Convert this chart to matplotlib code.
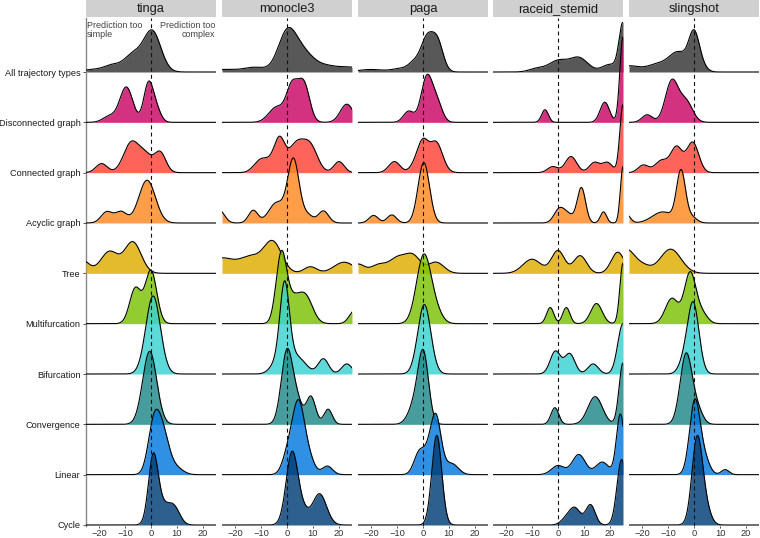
import numpy as np
import matplotlib
matplotlib.use("Agg")
import matplotlib.pyplot as plt

plt.rcParams['font.family'] = ['Liberation Sans', 'DejaVu Sans']

methods = ["tinga", "monocle3", "paga", "raceid_stemid", "slingshot"]
traj_types = ["All trajectory types", "Disconnected graph", "Connected graph",
              "Acyclic graph", "Tree", "Multifurcation", "Bifurcation",
              "Convergence", "Linear", "Cycle"]
type_colors = ["#333333", "#ca0565", "#ff4237", "#ff8821", "#e0ac00",
               "#7ac104", "#3ad1d1", "#1f8888", "#0278dd", "#003d76"]
x_ticks = [-20, -10, 0, 10, 20]

# density modes: (centre, width, height in row units)
tinga_modes = [
    [(-22, 4, 0.05), (-15, 3, 0.12), (-7, 3.5, 0.34), (0.5, 3.3, 0.8)],
    [(-16, 2.5, 0.12), (-9.5, 2.5, 0.7), (-1, 1.8, 0.75), (2, 1.8, 0.25)],
    [(-19, 2.2, 0.18), (-7.5, 3, 0.6), (-2, 2.5, 0.3), (3.5, 2.2, 0.4)],
    [(-17, 2.2, 0.22), (-11.5, 2.2, 0.22), (-1.5, 3.2, 0.85)],
    [(-27, 3, 0.28), (-16, 3.3, 0.43), (-7, 3.2, 0.62)],
    [(-6, 2.2, 0.7), (0, 2.2, 1.05)],
    [(0.8, 2.8, 1.55)],
    [(-0.5, 2.7, 1.45)],
    [(1, 2.2, 0.9), (4.5, 2.5, 0.8), (10, 2.5, 0.12)],
    [(0.8, 1.8, 1.2), (4, 3, 0.4), (9, 2.2, 0.3)],
]
monocle3_modes = [
    [(-25, 8, 0.05), (-12, 4, 0.08), (0, 3.5, 0.75), (6, 4, 0.35), (15, 5, 0.12), (25, 4, 0.08)],
    [(-4, 3, 0.3), (2, 2.2, 0.7), (6.5, 2.2, 0.75), (23, 2.5, 0.36)],
    [(-10.5, 2.5, 0.2), (-2.8, 2, 0.55), (-6, 3, 0.2), (3.5, 3, 0.55), (9, 2.8, 0.5), (20, 2, 0.22)],
    [(-26, 2, 0.25), (-13, 1.8, 0.25), (-4, 3, 0.4), (2.5, 2.2, 1.25), (8, 2, 0.15), (14, 2, 0.24)],
    [(-25, 5, 0.3), (-14, 4, 0.3), (-5.5, 3.5, 0.62), (9, 2.5, 0.13), (22, 4, 0.22)],
    [(-2.2, 2, 1.35), (2, 2.5, 0.4), (7, 2.8, 0.55), (26, 2, 0.26)],
    [(-4, 2.5, 0.2), (-0.9, 1.8, 1.6), (3.5, 3.5, 0.35), (14, 2, 0.3), (23, 2, 0.2)],
    [(0, 2.2, 1.45), (4, 2, 0.4), (9.2, 1.8, 0.55), (15.8, 1.6, 0.3)],
    [(0, 2, 0.3), (4.4, 2.5, 1.45), (9, 2, 0.2), (15.5, 2, 0.17)],
    [(2, 2.3, 1.45), (6.5, 2, 0.2), (12.5, 2.7, 0.62)],
]
paga_modes = [
    [(-20, 5, 0.05), (-9, 3, 0.06), (-3, 2.5, 0.2), (1.5, 2.2, 0.6), (5.5, 2.2, 0.6)],
    [(-5.5, 2, 0.22), (1.5, 2.2, 0.9), (5.5, 2, 0.35)],
    [(-11, 2.2, 0.22), (-3, 2, 0.15), (0, 2, 0.55), (5, 2.5, 0.6)],
    [(-19, 1.8, 0.15), (-12, 1.8, 0.16), (0.3, 2.2, 1.2)],
    [(-25, 2.5, 0.18), (-17, 3, 0.17), (-10, 3, 0.28), (-4, 3, 0.35), (5, 3, 0.22)],
    [(0.3, 2.8, 1.35), (5, 2.5, 0.2)],
    [(0.5, 2.5, 1.38)],
    [(-3, 2.5, 0.4), (0.2, 2, 1.3)],
    [(-1.5, 2, 0.42), (2, 2, 0.3), (5, 2, 1.1), (11, 2.5, 0.22)],
    [(5.3, 1.9, 1.78)],
]
raceid_stemid_modes = [
    [(-8, 3, 0.07), (0, 3.5, 0.22), (8, 3.5, 0.28), (20, 3, 0.15), (25, 1.5, 0.95)],
    [(-5, 1.3, 0.25), (18, 1.8, 0.4), (25, 1.2, 1.7)],
    [(-2, 2, 0.12), (5, 2.2, 0.32), (14, 2, 0.2), (19, 2, 0.2), (25, 1.2, 1.35)],
    [(0.5, 2, 0.27), (4, 2, 0.15), (9, 1.6, 0.7), (17.5, 1.2, 0.22), (25, 1, 1.12)],
    [(-10, 3.5, 0.28), (0, 2.5, 0.45), (8.5, 2.5, 0.35), (23, 2.5, 0.42)],
    [(-3, 1.4, 0.32), (3.2, 1.4, 0.32), (14.8, 2.2, 0.4), (25, 1.2, 1.2)],
    [(-1, 2, 0.45), (4.5, 2, 0.4), (13.5, 2, 0.2), (25, 2, 1.0)],
    [(-1.2, 1.5, 0.33), (14.3, 2.8, 0.55), (25, 1.5, 1.22)],
    [(0, 2.5, 0.18), (8, 2.5, 0.4), (17, 2.5, 0.25), (24, 1.5, 1.2)],
    [(3, 2, 0.1), (6.5, 2.2, 0.33), (12.5, 1.8, 0.4), (24.5, 1.8, 1.3)],
]
slingshot_modes = [
    [(-25, 4, 0.12), (-14, 4, 0.15), (-6, 3.5, 0.38), (0, 2, 0.72), (3, 2, 0.1)],
    [(-18, 2, 0.15), (-8.5, 2.5, 0.82), (-3, 2.5, 0.4)],
    [(-19.5, 2, 0.15), (-12.5, 2.5, 0.24), (-6.7, 2.2, 0.5), (-0.5, 2.3, 0.6)],
    [(-26, 1.5, 0.17), (-12, 4, 0.22), (-5, 1.7, 1.0), (-1, 2, 0.12)],
    [(-26, 3, 0.45), (-20, 3, 0.15), (-9, 4, 0.48)],
    [(-8.5, 2.5, 0.5), (-1.5, 2.2, 1.0), (3, 2.2, 0.2)],
    [(-4, 2, 0.2), (-0.3, 2.2, 1.4)],
    [(-3, 2.3, 1.4), (1.5, 2, 0.25)],
    [(0.3, 2, 1.45), (4, 2, 0.3), (12, 1.5, 0.1)],
    [(1.2, 2, 1.7), (4.5, 2, 0.3)],
]
modes_by_method = {
    "tinga": tinga_modes,
    "monocle3": monocle3_modes,
    "paga": paga_modes,
    "raceid_stemid": raceid_stemid_modes,
    "slingshot": slingshot_modes,
}

xs = np.linspace(-25, 25, 601)


def ridge(modes):
    y = np.zeros_like(xs)
    for mu, sd, h in modes:
        y += h * np.exp(-0.5 * ((xs - mu) / sd) ** 2)
    return y


W, H = 760, 538
fig = plt.figure(figsize=(W / 100, H / 100), dpi=100)
panel_left = [86, 222, 358, 493, 629]
pw = 130
top, bottom = 18, 526
n = len(traj_types)
row_px = (bottom - 1 - 72) / (n - 1)
ymin = -1 / row_px
ymax = n - 1 + (72 - top) / row_px

for i, m in enumerate(methods):
    ax = fig.add_axes([panel_left[i] / W, 1 - bottom / H, pw / W, (bottom - top) / H])
    for r, (modes, col) in enumerate(zip(modes_by_method[m], type_colors)):
        base = n - 1 - r
        y = ridge(modes)
        ax.fill_between(xs, base, base + y, color=col, alpha=0.82, lw=0, zorder=2 + 2 * r)
        ax.plot(xs, base + y, color='black', lw=0.8, zorder=3 + 2 * r)
    ax.axvline(0, color='#111111', lw=0.8, ls=(0, (3.5, 3)), zorder=50)
    ax.set_xlim(-25, 25)
    ax.set_ylim(ymin, ymax)
    ax.set_xticks(x_ticks)
    ax.set_xticklabels([f"\u2212{abs(t)}" if t < 0 else str(t) for t in x_ticks])
    ax.tick_params(axis='x', length=1.5, width=0.6, color='#333333', pad=0.5,
                   labelsize=6.7, labelcolor='#333333')
    for s in ax.spines.values():
        s.set_visible(False)
    if i == 0:
        ax.spines['left'].set_visible(True)
        ax.spines['left'].set_color('#888888')
        ax.spines['left'].set_linewidth(1.0)
        ax.set_yticks(range(n - 1, -1, -1))
        ax.set_yticklabels(traj_types)
        ax.tick_params(axis='y', length=2.5, width=0.6, color='#333333', pad=1.5,
                       labelsize=6.6, labelcolor='#1a1a1a')
        ax.text(-24.6, ymax - 0.05, "Prediction too\nsimple", ha='left', va='top',
                fontsize=6.5, color='#444444', linespacing=1.0, zorder=60)
        ax.text(24.6, ymax - 0.05, "Prediction too\ncomplex", ha='right', va='top',
                fontsize=6.5, color='#444444', linespacing=1.0, zorder=60)
    else:
        ax.set_yticks([])

    strip = fig.add_axes([panel_left[i] / W, 1 - 16.5 / H, pw / W, 16.5 / H])
    strip.set_facecolor('#d0d0d0')
    strip.set_xticks([])
    strip.set_yticks([])
    for s in strip.spines.values():
        s.set_visible(False)
    strip.text(0.5, 0.45, m, ha='center', va='center', fontsize=9.3,
               color='#1a1a1a', transform=strip.transAxes)

fig.savefig("out.png", dpi=100)
